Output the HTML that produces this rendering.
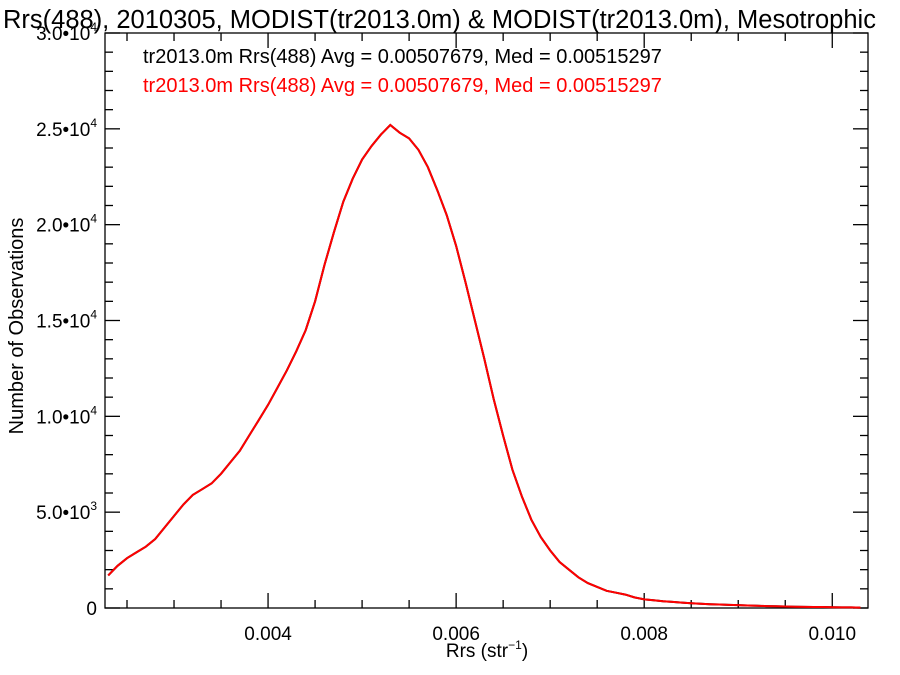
<!DOCTYPE html>
<html><head><meta charset="utf-8"><style>
body{margin:0;background:#fff;}
svg{display:block;font-family:"Liberation Sans",Arial,sans-serif;}
</style></head><body>
<svg id="chart" width="900" height="675" xmlns="http://www.w3.org/2000/svg">
<text x="3" y="28" font-size="25.5" fill="#000">Rrs(488), 2010305, MODIST(tr2013.0m) &amp; MODIST(tr2013.0m), Mesotrophic</text>
<rect x="105" y="33" width="763" height="575" fill="none" stroke="#000" stroke-width="1.3"/>
<g id="ticks"></g>
<text x="143" y="63" font-size="20" fill="#000">tr2013.0m Rrs(488) Avg = 0.00507679, Med = 0.00515297</text>
<text x="143" y="92" font-size="20" fill="#ff0000">tr2013.0m Rrs(488) Avg = 0.00507679, Med = 0.00515297</text>
<text transform="translate(23,326) rotate(-90)" text-anchor="middle" font-size="20">Number of Observations</text>
<text x="487" y="657" text-anchor="middle" font-size="19">Rrs (str<tspan font-size="12" dy="-8">−1</tspan><tspan dy="8">)</tspan></text>
<g id="series"></g>
</svg>
<script>
const xCenters=[0.0023,0.0024,0.0025,0.0026,0.0027,0.0028,0.0029,0.0030,0.0031,0.0032,0.0033,0.0034,0.0035,0.0036,0.0037,0.0038,0.0039,0.0040,0.0041,0.0042,0.0043,0.0044,0.0045,0.0046,0.0047,0.0048,0.0049,0.0050,0.0051,0.0052,0.0053,0.0054,0.0055,0.0056,0.0057,0.0058,0.0059,0.0060,0.0061,0.0062,0.0063,0.0064,0.0065,0.0066,0.0067,0.0068,0.0069,0.0070,0.0071,0.0072,0.0073,0.0074,0.0075,0.0076,0.0077,0.0078,0.0079,0.0080,0.0081,0.0082,0.0083,0.0084,0.0085,0.0086,0.0087,0.0088,0.0089,0.0090,0.0091,0.0092,0.0093,0.0094,0.0095,0.0096,0.0097,0.0098,0.0099,0.0100,0.0101,0.0102,0.0103];
const counts=[1700,2200,2600,2900,3200,3600,4200,4800,5400,5900,6200,6500,7000,7600,8200,9000,9800,10600,11500,12400,13400,14500,16000,17900,19600,21200,22400,23400,24100,24700,25200,24800,24500,23900,23000,21800,20500,18900,17000,15000,13000,10900,9000,7200,5800,4600,3700,3000,2400,2000,1600,1300,1100,900,800,700,550,450,400,350,320,280,250,220,200,180,160,150,130,120,100,90,80,70,60,50,50,40,30,30,20];
const xTickVals=[0.004,0.006,0.008,0.010];
const xTickLabels=["0.004","0.006","0.008","0.010"];
const yTickVals=[0,5000,10000,15000,20000,25000,30000];
const yTickMant=["0","5.0","1.0","1.5","2.0","2.5","3.0"];
const yTickExp=["","3","4","4","4","4","4"];
const L=105,R=868,T=33,B=608,XMIN=0.002266,XMAX=0.01038,YMAX=30000;
const sx=v=>L+(v-XMIN)/(XMAX-XMIN)*(R-L);
const sy=v=>B-v/YMAX*(B-T);
const NS="http://www.w3.org/2000/svg";
const tg=document.getElementById('ticks');
function line(x1,y1,x2,y2,name){const l=document.createElementNS(NS,'line');l.setAttribute('x1',x1);l.setAttribute('y1',y1);l.setAttribute('x2',x2);l.setAttribute('y2',y2);l.setAttribute('stroke','#000');l.setAttribute('stroke-width','1.3');


tg.appendChild(l);}
for(let v=0.0025;v<=XMAX;v+=0.0005){const x=sx(v);const major=Math.abs(v/0.002-Math.round(v/0.002))<1e-6;const len=major?15:8;line(x,B,x,B-len,'x-tick');line(x,T,x,T+len,'x-tick-top');}
for(let v=0;v<=YMAX;v+=1000){const y=sy(v);const len=(v%5000===0)?15:8;line(L,y,L+len,y,'y-tick');line(R,y,R-len,y,'y-tick-right');}
xTickVals.forEach((v,i)=>{const t=document.createElementNS(NS,'text');t.setAttribute('x',sx(v));t.setAttribute('y',B+32);t.setAttribute('text-anchor','middle');t.setAttribute('font-size','19');t.textContent=xTickLabels[i];


tg.appendChild(t);});
yTickVals.forEach((v,i)=>{const t=document.createElementNS(NS,'text');t.setAttribute('x',97);t.setAttribute('y',sy(v)+7);t.setAttribute('text-anchor','end');t.setAttribute('font-size','19');
if(yTickExp[i]){t.innerHTML=yTickMant[i]+'•10<tspan font-size="12" dy="-9">'+yTickExp[i]+'</tspan>';}else{t.textContent=yTickMant[i];}


tg.appendChild(t);});
const sg=document.getElementById('series');
function poly(color,name,w){let d='';xCenters.forEach((x,i)=>{d+=(i?'L':'M')+sx(x).toFixed(1)+','+sy(counts[i]).toFixed(1);});
const p=document.createElementNS(NS,'path');p.setAttribute('d',d);p.setAttribute('fill','none');p.setAttribute('stroke',color);p.setAttribute('stroke-width',w);


sg.appendChild(p);}
poly('#000','histogram-line-black',2);
poly('#ff0000','histogram-line-red',2);
</script>
</body></html>
